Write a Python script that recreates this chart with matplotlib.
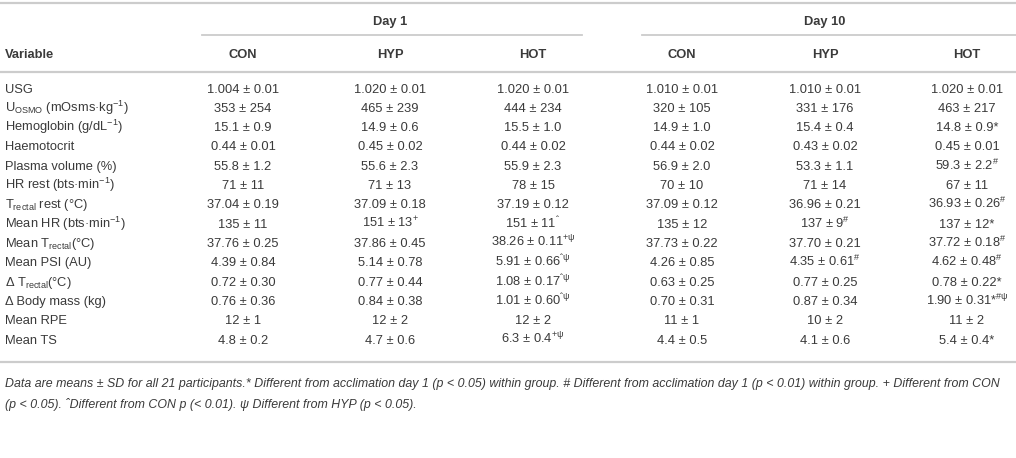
import matplotlib
matplotlib.use("Agg")
import matplotlib.pyplot as plt

plt.rcParams['font.family'] = ['Liberation Sans', 'DejaVu Sans']
plt.rcParams['mathtext.fontset'] = 'custom'
plt.rcParams['mathtext.rm'] = 'Liberation Sans'
plt.rcParams['mathtext.it'] = 'Liberation Sans:italic'
plt.rcParams['mathtext.bf'] = 'Liberation Sans:bold'

variables = [
    "USG",
    r"U$_{\mathregular{OSMO}}$ (mOsms·kg$^{\mathregular{-1}}$)",
    r"Hemoglobin (g/dL$^{\mathregular{-1}}$)",
    "Haemotocrit",
    "Plasma volume (%)",
    r"HR rest (bts·min$^{\mathregular{-1}}$)",
    r"T$_{\mathregular{rectal}}$ rest (°C)",
    r"Mean HR (bts·min$^{\mathregular{-1}}$)",
    r"Mean T$_{\mathregular{rectal}}$(°C)",
    "Mean PSI (AU)",
    r"Δ T$_{\mathregular{rectal}}$(°C)",
    "Δ Body mass (kg)",
    "Mean RPE",
    "Mean TS",
]

days = ["Day 1", "Day 10"]
groups = ["CON", "HYP", "HOT", "CON", "HYP", "HOT"]

d1_con = ["1.004 ± 0.01", "353 ± 254", "15.1 ± 0.9", "0.44 ± 0.01", "55.8 ± 1.2", "71 ± 11",
          "37.04 ± 0.19", "135 ± 11", "37.76 ± 0.25", "4.39 ± 0.84", "0.72 ± 0.30", "0.76 ± 0.36",
          "12 ± 1", "4.8 ± 0.2"]
d1_hyp = ["1.020 ± 0.01", "465 ± 239", "14.9 ± 0.6", "0.45 ± 0.02", "55.6 ± 2.3", "71 ± 13",
          "37.09 ± 0.18", "151 ± 13", "37.86 ± 0.45", "5.14 ± 0.78", "0.77 ± 0.44", "0.84 ± 0.38",
          "12 ± 2", "4.7 ± 0.6"]
d1_hot = ["1.020 ± 0.01", "444 ± 234", "15.5 ± 1.0", "0.44 ± 0.02", "55.9 ± 2.3", "78 ± 15",
          "37.19 ± 0.12", "151 ± 11", "38.26 ± 0.11", "5.91 ± 0.66", "1.08 ± 0.17", "1.01 ± 0.60",
          "12 ± 2", "6.3 ± 0.4"]
d10_con = ["1.010 ± 0.01", "320 ± 105", "14.9 ± 1.0", "0.44 ± 0.02", "56.9 ± 2.0", "70 ± 10",
           "37.09 ± 0.12", "135 ± 12", "37.73 ± 0.22", "4.26 ± 0.85", "0.63 ± 0.25", "0.70 ± 0.31",
           "11 ± 1", "4.4 ± 0.5"]
d10_hyp = ["1.010 ± 0.01", "331 ± 176", "15.4 ± 0.4", "0.43 ± 0.02", "53.3 ± 1.1", "71 ± 14",
           "36.96 ± 0.21", "137 ± 9", "37.70 ± 0.21", "4.35 ± 0.61", "0.77 ± 0.25", "0.87 ± 0.34",
           "10 ± 2", "4.1 ± 0.6"]
d10_hot = ["1.020 ± 0.01", "463 ± 217", "14.8 ± 0.9*", "0.45 ± 0.01", "59.3 ± 2.2", "67 ± 11",
           "36.93 ± 0.26", "137 ± 12*", "37.72 ± 0.18", "4.62 ± 0.48", "0.78 ± 0.22*", "1.90 ± 0.31*",
           "11 ± 2", "5.4 ± 0.4*"]

# superscript significance marks
d1_con_sup = [""] * 14
d1_hyp_sup = ["", "", "", "", "", "", "", "+", "", "", "", "", "", ""]
d1_hot_sup = ["", "", "", "", "", "", "", "ˆ", "+ψ", "ˆψ", "ˆψ", "ˆψ", "", "+ψ"]
d10_con_sup = [""] * 14
d10_hyp_sup = ["", "", "", "", "", "", "", "#", "", "#", "", "", "", ""]
d10_hot_sup = ["", "", "", "", "#", "", "#", "", "#", "#", "", "#ψ", "", ""]

columns = [d1_con, d1_hyp, d1_hot, d10_con, d10_hyp, d10_hot]
sups = [d1_con_sup, d1_hyp_sup, d1_hot_sup, d10_con_sup, d10_hyp_sup, d10_hot_sup]

footnote1 = ("Data are means ± SD for all 21 participants.* Different from acclimation day 1 (p < 0.05) "
             "within group. # Different from acclimation day 1 (p < 0.01) within group. + Different from CON")
footnote2 = "(p < 0.05). ˆDifferent from CON p (< 0.01). ψ Different from HYP (p < 0.05)."

fig = plt.figure(figsize=(10.16, 4.58), dpi=100)
ax = fig.add_axes([0, 0, 1, 1])
ax.set_xlim(0, 1016)
ax.set_ylim(458, 0)
ax.axis('off')

txt = '#3a3a3a'
rule = '#cccccc'
fs = 9.3
col_x = [243, 390, 533, 682, 825, 967]
row_y0, row_dy = 88, 19.3
base = 4.6  # baseline offset below row centre

# rules
ax.plot([0, 1016], [3, 3], color=rule, lw=1.6)
ax.plot([202, 582], [35, 35], color=rule, lw=1.3)
ax.plot([642, 1016], [35, 35], color=rule, lw=1.3)
ax.plot([0, 1016], [72, 72], color=rule, lw=1.6)
ax.plot([0, 1016], [362, 362], color=rule, lw=1.6)

ax.text(390, 20 + base, days[0], ha='center', va='baseline', fontsize=fs, fontweight='bold', color=txt)
ax.text(825, 20 + base, days[1], ha='center', va='baseline', fontsize=fs, fontweight='bold', color=txt)
ax.text(5, 53 + base, "Variable", ha='left', va='baseline', fontsize=fs, fontweight='bold', color=txt)
for x, g in zip(col_x, groups):
    ax.text(x, 53 + base, g, ha='center', va='baseline', fontsize=fs, fontweight='bold', color=txt)

for i, v in enumerate(variables):
    y = row_y0 + i * row_dy + base
    ax.text(5, y, v, ha='left', va='baseline', fontsize=fs, color=txt)
    for x, col, sup in zip(col_x, columns, sups):
        s = col[i]
        if sup[i]:
            s = s + r"$^{\mathregular{" + sup[i].replace("#", r"\#") + "}}$"
        ax.text(x, y, s, ha='center', va='baseline', fontsize=fs, color=txt)

ax.text(5, 383 + 4, footnote1, ha='left', va='baseline', fontsize=8.9, style='italic', color=txt)
ax.text(5, 404 + 4, footnote2, ha='left', va='baseline', fontsize=8.9, style='italic', color=txt)

fig.savefig("out.png", dpi=100, facecolor='white')
